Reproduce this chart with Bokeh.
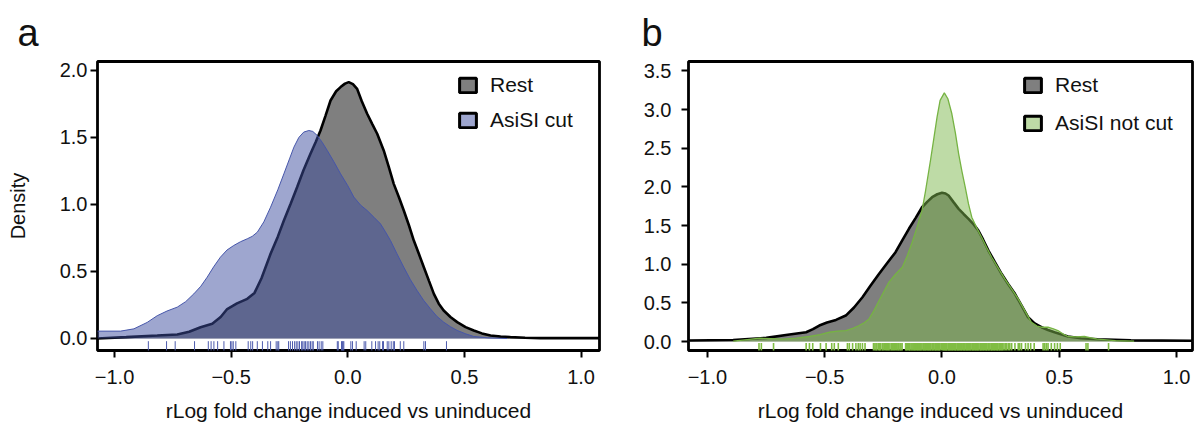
from bokeh.plotting import figure
from bokeh.layouts import row
from bokeh.models import Range1d, FixedTicker, Legend, LegendItem
from bokeh.embed import file_html
from bokeh.resources import INLINE

# ---------------- data ----------------
x_ticks = [-1.0, -0.5, 0.0, 0.5, 1.0]
x_tick_labels = ["\u22121.0", "\u22120.5", "0.0", "0.5", "1.0"]
ya_ticks = [0.0, 0.5, 1.0, 1.5, 2.0]
ya_tick_labels = ["0.0", "0.5", "1.0", "1.5", "2.0"]
yb_ticks = [0.0, 0.5, 1.0, 1.5, 2.0, 2.5, 3.0, 3.5]
yb_tick_labels = ["0.0", "0.5", "1.0", "1.5", "2.0", "2.5", "3.0", "3.5"]

# panel a: Rest density
rest_a_x = [-1.074, -0.95, -0.817, -0.731, -0.680, -0.631, -0.581, -0.545, -0.517, -0.475,
            -0.431, -0.400, -0.370, -0.331, -0.300, -0.274, -0.245, -0.217, -0.190, -0.160,
            -0.138, -0.117, -0.095, -0.074, -0.050, -0.031, -0.012, 0.004, 0.022, 0.040,
            0.060, 0.083, 0.105, 0.126, 0.154, 0.175, 0.197, 0.220, 0.240, 0.262,
            0.283, 0.305, 0.326, 0.348, 0.369, 0.390, 0.411, 0.440, 0.469, 0.505,
            0.540, 0.575, 0.612, 0.655, 0.697, 0.760, 0.826, 0.950, 1.079]
rest_a_y = [0.0, 0.01, 0.022, 0.03, 0.05, 0.084, 0.11, 0.16, 0.22, 0.262,
            0.296, 0.34, 0.45, 0.632, 0.76, 0.88, 1.005, 1.13, 1.255, 1.378,
            1.465, 1.552, 1.665, 1.776, 1.845, 1.876, 1.902, 1.913, 1.898, 1.863,
            1.77, 1.677, 1.60, 1.528, 1.403, 1.285, 1.154, 1.05, 0.955, 0.845,
            0.731, 0.63, 0.532, 0.43, 0.333, 0.26, 0.209, 0.16, 0.122, 0.085,
            0.06, 0.038, 0.022, 0.014, 0.01, 0.006, 0.003, 0.003, 0.003]
# panel a: AsiSI cut density
cut_x = [-1.074, -0.974, -0.917, -0.860, -0.817, -0.775, -0.731, -0.695, -0.660, -0.630,
         -0.603, -0.575, -0.546, -0.518, -0.489, -0.460, -0.431, -0.410, -0.388, -0.360,
         -0.331, -0.300, -0.274, -0.250, -0.231, -0.210, -0.189, -0.167, -0.150, -0.131,
         -0.110, -0.088, -0.060, -0.031, 0.0, 0.026, 0.055, 0.083, 0.112, 0.140,
         0.160, 0.183, 0.210, 0.240, 0.268, 0.297, 0.325, 0.354, 0.382, 0.411,
         0.440, 0.469, 0.505, 0.540, 0.600, 0.683]
cut_y = [0.055, 0.055, 0.072, 0.12, 0.17, 0.205, 0.234, 0.275, 0.333, 0.39,
         0.457, 0.535, 0.607, 0.66, 0.694, 0.722, 0.744, 0.762, 0.793, 0.87,
         0.98, 1.11, 1.229, 1.34, 1.428, 1.50, 1.540, 1.552, 1.545, 1.515,
         1.465, 1.403, 1.32, 1.229, 1.14, 1.055, 0.995, 0.955, 0.905, 0.856,
         0.80, 0.731, 0.635, 0.532, 0.44, 0.358, 0.285, 0.222, 0.165, 0.122,
         0.088, 0.06, 0.035, 0.015, 0.005, 0.0]
cut_rug = [-0.855, -0.777, -0.740, -0.657, -0.598, -0.586, -0.574, -0.558, -0.531, -0.503,
           -0.497, -0.491, -0.480, -0.427, -0.416, -0.408, -0.388, -0.366, -0.343, -0.331,
           -0.307, -0.300, -0.296, -0.254, -0.246, -0.237, -0.228, -0.221, -0.214, -0.207,
           -0.198, -0.193, -0.187, -0.181, -0.174, -0.167, -0.160, -0.153, -0.148, -0.130,
           -0.123, -0.114, -0.107, -0.045, -0.041, -0.027, -0.023, -0.020, -0.017, 0.013,
           0.020, 0.036, 0.070, 0.077, 0.103, 0.119, 0.130, 0.137, 0.149, 0.153,
           0.169, 0.176, 0.186, 0.195, 0.200, 0.225, 0.240, 0.326, 0.333, 0.423]

# panel b: Rest density
rest_b_x = [-1.085, -0.890, -0.749, -0.650, -0.579, -0.550, -0.523, -0.490, -0.452, -0.410,
            -0.375, -0.339, -0.305, -0.268, -0.235, -0.198, -0.170, -0.141, -0.112, -0.085,
            -0.062, -0.042, -0.020, 0.0, 0.015, 0.028, 0.050, 0.071, 0.092, 0.113,
            0.135, 0.155, 0.175, 0.198, 0.225, 0.254, 0.282, 0.311, 0.340, 0.367,
            0.395, 0.424, 0.452, 0.480, 0.537, 0.593, 0.664, 0.805, 1.070]
rest_b_y = [0.013, 0.02, 0.047, 0.09, 0.12, 0.16, 0.207, 0.245, 0.28, 0.336,
            0.44, 0.573, 0.72, 0.876, 1.01, 1.155, 1.305, 1.458, 1.60, 1.737,
            1.81, 1.867, 1.905, 1.924, 1.915, 1.889, 1.80, 1.716, 1.65, 1.587,
            1.515, 1.436, 1.32, 1.177, 1.03, 0.876, 0.745, 0.617, 0.46, 0.314,
            0.235, 0.185, 0.15, 0.12, 0.065, 0.043, 0.03, 0.015, 0.01]
# panel b: AsiSI not cut density
notcut_x = [-0.890, -0.830, -0.777, -0.730, -0.678, -0.620, -0.565, -0.520, -0.480, -0.445,
            -0.410, -0.380, -0.353, -0.330, -0.311, -0.290, -0.268, -0.247, -0.226, -0.198,
            -0.169, -0.148, -0.127, -0.106, -0.085, -0.070, -0.049, -0.035, -0.021, -0.008,
            0.010, 0.025, 0.042, 0.057, 0.071, 0.085, 0.099, 0.113, 0.127, 0.148,
            0.169, 0.190, 0.212, 0.240, 0.268, 0.297, 0.325, 0.353, 0.381, 0.405,
            0.424, 0.452, 0.475, 0.494, 0.515, 0.537, 0.570, 0.607, 0.635, 0.664,
            0.740, 0.819]
notcut_y = [0.005, 0.025, 0.043, 0.038, 0.03, 0.045, 0.065, 0.09, 0.12, 0.135,
            0.142, 0.17, 0.207, 0.245, 0.293, 0.40, 0.53, 0.65, 0.768, 0.87,
            0.961, 1.11, 1.285, 1.48, 1.695, 1.95, 2.342, 2.62, 2.902, 3.12,
            3.217, 3.14, 2.946, 2.70, 2.428, 2.20, 1.996, 1.78, 1.608, 1.47,
            1.349, 1.22, 1.09, 0.95, 0.811, 0.68, 0.552, 0.40, 0.25, 0.20,
            0.185, 0.185, 0.165, 0.142, 0.10, 0.065, 0.06, 0.065, 0.048, 0.03,
            0.012, 0.005]
notcut_rug = [-0.780, -0.770, -0.718, -0.579, -0.565, -0.551, -0.518, -0.494, -0.470, -0.459,
              -0.442, -0.403, -0.395, -0.381, -0.367, -0.357, -0.349, -0.339, -0.328,
              -0.292, -0.286, -0.281, -0.277, -0.270, -0.266, -0.262, -0.255, -0.251, -0.246,
              -0.240, -0.236, -0.231, -0.227, -0.222, -0.216, -0.212, -0.207, -0.203, -0.198,
              -0.193, -0.188, -0.184, -0.179, -0.175, -0.170,
              -0.155, -0.152, -0.148, -0.143, -0.139, -0.137, -0.132, -0.128, -0.124, -0.120,
              -0.116, -0.113, -0.108, -0.104, -0.101, -0.096, -0.093, -0.089, -0.085, -0.080,
              -0.077, -0.073, -0.070, -0.066, -0.061, -0.058, -0.054, -0.050, -0.047, -0.042,
              -0.039, -0.035, -0.030, -0.027, -0.024, -0.019, -0.016, -0.012, -0.009, -0.004,
              -0.001, 0.003, 0.006, 0.011, 0.014, 0.018, 0.021, 0.026, 0.029, 0.033,
              0.036, 0.041, 0.044, 0.048, 0.053, 0.056, 0.059, 0.064, 0.067, 0.071,
              0.074, 0.079, 0.082, 0.086, 0.091, 0.094, 0.097, 0.102, 0.105, 0.109,
              0.112, 0.117, 0.120, 0.124, 0.129, 0.132, 0.135, 0.140, 0.143, 0.147,
              0.151, 0.154, 0.158, 0.163, 0.166, 0.169, 0.174, 0.177, 0.181, 0.186,
              0.189, 0.192, 0.197, 0.200, 0.204, 0.209, 0.212, 0.215, 0.220, 0.223,
              0.227, 0.232, 0.235, 0.238, 0.243, 0.246, 0.250, 0.255, 0.258,
              0.264, 0.270, 0.276, 0.283, 0.289, 0.297, 0.311, 0.325, 0.331, 0.339,
              0.356, 0.367, 0.378, 0.393, 0.431, 0.438, 0.445, 0.452, 0.466, 0.480,
              0.492, 0.504, 0.614, 0.622, 0.710]

labels_a = ["Rest", "AsiSI cut"]
labels_b = ["Rest", "AsiSI not cut"]

# ---------------- style ----------------
FONT = "Liberation Sans"
TXT = "#111111"
GREY = "#7f7f7f"
BLUE = "#3d4da0"
BLUE_LINE = "#4656aa"
BLUE_RUG = "#4e5cad"
GREEN = "#7eb84e"
GREEN_LINE = "#76b343"
GREEN_RUG = "#80bd44"
NAN = float("nan")


def base_fig(width, xr, yr, border_left, border_right, letter, letter_offset):
    p = figure(width=width, height=429, x_range=Range1d(*xr), y_range=Range1d(*yr),
               output_backend="svg", toolbar_location=None,
               min_border_left=border_left, min_border_right=border_right,
               min_border_top=61, min_border_bottom=79)
    p.background_fill_color = "white"
    p.border_fill_color = "white"
    p.outline_line_color = "black"
    p.outline_line_width = 2.8
    p.xgrid.visible = False
    p.ygrid.visible = False
    # panel letter as the figure title
    p.title.text = letter
    p.title.align = "left"
    p.title.offset = letter_offset
    p.title.standoff = 16
    p.title.text_font = FONT
    p.title.text_font_size = "38px"
    p.title.text_font_style = "normal"
    p.title.text_color = TXT
    for ax in (p.xaxis[0], p.yaxis[0]):
        ax.axis_line_color = None
        ax.major_tick_line_color = "black"
        ax.major_tick_line_width = 2
        ax.major_tick_out = 7
        ax.major_tick_in = 0
        ax.minor_tick_line_color = None
        ax.major_label_text_font = FONT
        ax.major_label_text_font_size = "20px"
        ax.major_label_text_color = TXT
        ax.axis_label_text_font = FONT
        ax.axis_label_text_font_size = "21px"
        ax.axis_label_text_font_style = "normal"
        ax.axis_label_text_color = TXT
    p.xaxis.ticker = FixedTicker(ticks=x_ticks)
    p.xaxis.major_label_overrides = dict(zip(x_ticks, x_tick_labels))
    p.xaxis.major_label_standoff = 12
    p.xaxis.axis_label = "rLog fold change induced vs uninduced"
    p.xaxis.axis_label_standoff = 12
    return p


def add_legend(p, renderers, labels, loc, spacing):
    leg = Legend(items=[LegendItem(label=l, renderers=[r]) for l, r in zip(labels, renderers)],
                 location=loc, border_line_color=None, background_fill_alpha=0,
                 padding=0, margin=0, spacing=spacing, glyph_width=21, glyph_height=18,
                 label_height=24, label_standoff=12, label_text_font=FONT,
                 label_text_font_size="21px", label_text_color=TXT,
                 label_text_baseline="middle")
    p.add_layout(leg)


def legend_key(p, color, alpha):
    return p.quad(left=[NAN], right=[NAN], top=[NAN], bottom=[NAN], fill_color=color,
                  fill_alpha=alpha, line_color="black", line_width=3)


# ---------------- panel a ----------------
pa = base_fig(640, (-1.073, 1.079), (-0.0896, 2.067), 97, 41, "a", -80)
pa.yaxis.ticker = FixedTicker(ticks=ya_ticks)
pa.yaxis.major_label_overrides = dict(zip(ya_ticks, ya_tick_labels))
pa.yaxis.major_label_standoff = 3
pa.yaxis.axis_label = "Density"
pa.yaxis.axis_label_text_font_size = "20px"
pa.yaxis.axis_label_standoff = 28

pa.varea(x=rest_a_x, y1=[0] * len(rest_a_x), y2=rest_a_y, fill_color=GREY)
pa.line(rest_a_x, rest_a_y, line_color="black", line_width=2.6)
pa.varea(x=cut_x, y1=[0] * len(cut_x), y2=cut_y, fill_color=BLUE, fill_alpha=0.5)
pa.line(cut_x, cut_y, line_color=BLUE_LINE, line_width=1)
pa.segment(x0=cut_rug, y0=[-0.02] * len(cut_rug), x1=cut_rug, y1=[-0.1] * len(cut_rug),
           line_color=BLUE_RUG, line_width=1)
ra1 = legend_key(pa, GREY, 1.0)
ra2 = legend_key(pa, BLUE, 0.5)
add_legend(pa, [ra1, ra2], labels_a, (360, 218), 11)

# ---------------- panel b ----------------
pb = base_fig(554, (-1.0805, 1.0678), (-0.116, 3.622), 45, 2, "b", -47)
pb.yaxis.ticker = FixedTicker(ticks=yb_ticks)
pb.yaxis.major_label_overrides = dict(zip(yb_ticks, yb_tick_labels))
pb.yaxis.major_label_standoff = 10

pb.varea(x=rest_b_x, y1=[0] * len(rest_b_x), y2=rest_b_y, fill_color=GREY)
pb.line(rest_b_x, rest_b_y, line_color="black", line_width=2.6)
pb.varea(x=notcut_x, y1=[0] * len(notcut_x), y2=notcut_y, fill_color=GREEN, fill_alpha=0.5)
pb.line(notcut_x, notcut_y, line_color=GREEN_LINE, line_width=1.3)
pb.segment(x0=notcut_rug, y0=[-0.02] * len(notcut_rug), x1=notcut_rug,
           y1=[-0.13] * len(notcut_rug), line_color=GREEN_RUG, line_width=1.6)
rb1 = legend_key(pb, GREY, 1.0)
rb2 = legend_key(pb, GREEN, 0.5)
add_legend(pb, [rb1, rb2], labels_b, (334, 215), 14)

layout = row(pa, pb)
open("out.html", "w").write(file_html(layout, INLINE))
